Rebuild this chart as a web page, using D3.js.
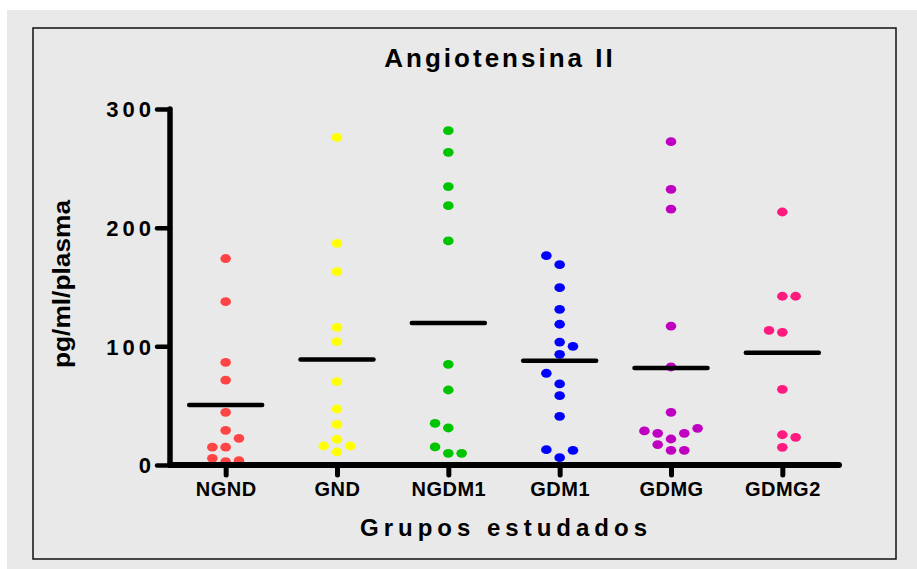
<!DOCTYPE html>
<html>
<head>
<meta charset="utf-8">
<script src="https://cdn.jsdelivr.net/npm/d3@7"></script>
<style>
  html, body { margin: 0; padding: 0; background: #ffffff; }
  svg { display: block; }
  text { font-family: "Liberation Sans", Arial, sans-serif; font-weight: bold; fill: #000; }
</style>
</head>
<body>
<svg id="chart" width="917" height="569"></svg>
<script>
// ---- data ----
const categories = ["NGND", "GND", "NGDM1", "GDM1", "GDMG", "GDMG2"];
const ngnd  = [174, 137.6, 86.5, 71.6, 44.4, 29.2, 15.0, 22.5, 15.0, 2.8, 3.6, 5.6];
const gnd   = [276, 186.8, 162.9, 116, 103.9, 70.2, 47.2, 34.3, 21.7, 11, 16, 16];
const ngdm1 = [281.7, 263.5, 234.6, 218.5, 188.8, 84.8, 63.2, 9.8, 9.8, 31.2, 35.1, 15.2];
const gdm1  = [6.2, 12.4, 168.8, 176.4, 12.9, 149.4, 131.2, 118.6, 103.6, 93.3, 100, 68.3, 77.3, 58.4, 41];
const gdmg  = [272.5, 232.3, 215.7, 117.1, 82.6, 44.4, 21.9, 12.4, 12.4, 17.2, 26.7, 26.7, 30.9, 28.7];
const gdmg2 = [213.2, 142.2, 142.2, 111.8, 113.5, 63.8, 25.5, 14.9, 23.3];
const means = [50.6, 88.8, 119.7, 87.9, 81.7, 94.6];
const yTicks = [0, 100, 200, 300];
const title = "Angiotensina II";
const xTitle = "Grupos estudados";
const yTitle = "pg/ml/plasma";

const seriesValues = [ngnd, gnd, ngdm1, gdm1, gdmg, gdmg2];
const colors = ["#ff4444", "#ffff00", "#00c400", "#0000ff", "#c000c0", "#ff1a80"];

// ---- layout ----
const svg = d3.select("#chart");

svg.append("rect").attr("x", 7).attr("y", 10).attr("width", 910).attr("height", 559).attr("fill", "#e9e9e9");
svg.append("rect").attr("x", 33).attr("y", 28).attr("width", 863).attr("height", 531)
  .attr("fill", "none").attr("stroke", "#111").attr("stroke-width", 1.5);

const x = d3.scalePoint().domain(categories).range([170, 838]).padding(0.5);
const y = d3.scaleLinear().domain([0, 300]).range([465, 109]);

// beeswarm placement (column offsets computed from collisions)
const colStep = 13.3, minGap = 10.9;
function swarm(values) {
  const placed = [];
  let side = 1;
  values.forEach(v => {
    const py = y(v);
    const cands = [0, side, -side, 2 * side, -2 * side, 3 * side, -3 * side];
    for (const k of cands) {
      if (!placed.some(p => p.k === k && Math.abs(p.py - py) < minGap)) {
        placed.push({ v, k, py });
        if (k !== 0) side = k > 0 ? -1 : 1;
        break;
      }
    }
  });
  return placed;
}

const groups = svg.append("g");
categories.forEach((c, i) => {
  const pts = swarm(seriesValues[i]);
  groups.selectAll(null).data(pts).enter().append("ellipse")
    .attr("cx", d => x(c) + d.k * colStep)
    .attr("cy", d => y(d.v))
    .attr("rx", 5.3).attr("ry", 4.4)
    .attr("fill", colors[i]);
});

// mean lines
svg.append("g").selectAll("line").data(categories).enter().append("line")
  .attr("x1", c => x(c) - 36.5).attr("x2", c => x(c) + 36.5)
  .attr("y1", (c, i) => y(means[i])).attr("y2", (c, i) => y(means[i]))
  .attr("stroke", "#000").attr("stroke-width", 4.5).attr("stroke-linecap", "round");

// axes
const yAxis = svg.append("g").attr("transform", "translate(170,0)")
  .call(d3.axisLeft(y).tickValues(yTicks).tickSize(13).tickSizeOuter(0).tickPadding(2).tickFormat(d3.format("d")));
yAxis.select(".domain").attr("stroke", "#000").attr("stroke-width", 5.5).attr("stroke-linecap", "round")
  .attr("d", `M0,${y(0)}V${y(300)}`);
yAxis.selectAll(".tick line").attr("stroke", "#000").attr("stroke-width", 4.5).attr("stroke-linecap", "round");
yAxis.selectAll(".tick text").attr("font-size", 22).attr("letter-spacing", "4px")
  .attr("font-family", "'Liberation Sans', Arial, sans-serif").attr("font-weight", "bold").attr("dy", "0.36em");

const xAxis = svg.append("g").attr("transform", `translate(0,${y(0)})`)
  .call(d3.axisBottom(x).tickSize(10).tickSizeOuter(0));
xAxis.select(".domain").attr("stroke", "#000").attr("stroke-width", 6).attr("stroke-linecap", "round")
  .attr("d", "M170,0H839");
xAxis.selectAll(".tick line").attr("stroke", "#000").attr("stroke-width", 5).attr("stroke-linecap", "round");
xAxis.selectAll(".tick text").attr("font-size", 20).attr("y", 31).attr("dy", 0).attr("letter-spacing", "0.5px")
  .attr("font-family", "'Liberation Sans', Arial, sans-serif").attr("font-weight", "bold");

// titles
svg.append("text").attr("x", 500).attr("y", 67).attr("text-anchor", "middle")
  .attr("font-size", 26).attr("letter-spacing", "3px").text(title);
svg.append("text").attr("x", 506).attr("y", 536).attr("text-anchor", "middle")
  .attr("font-size", 24).attr("letter-spacing", "5px").text(xTitle);
svg.append("text").attr("transform", "translate(70,284) rotate(-90)").attr("text-anchor", "middle")
  .attr("font-size", 24).attr("textLength", 168).attr("lengthAdjust", "spacingAndGlyphs").text(yTitle);
</script>
</body>
</html>
